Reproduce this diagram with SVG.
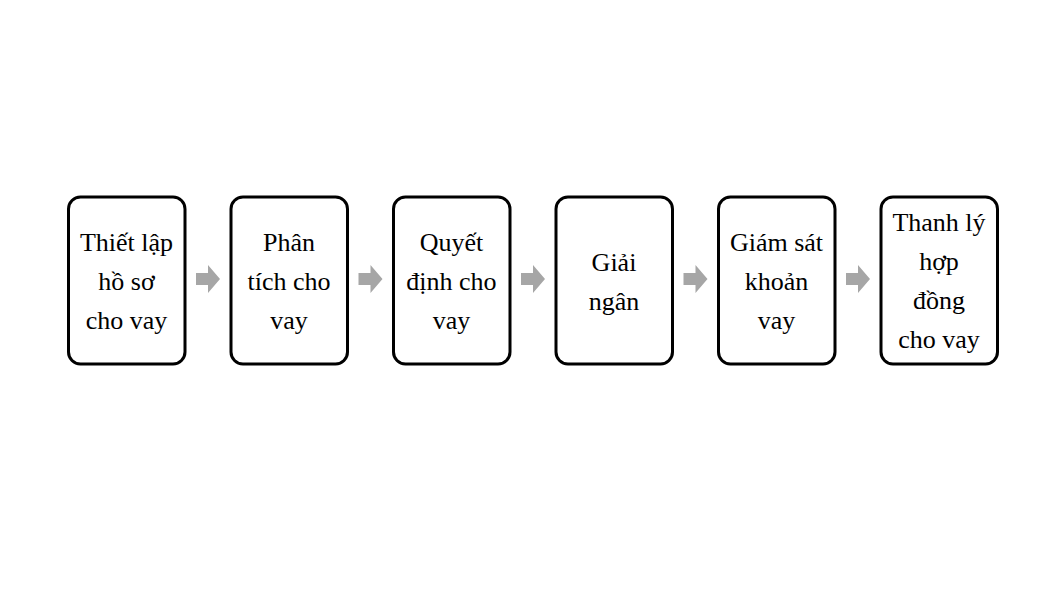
<svg xmlns="http://www.w3.org/2000/svg" width="1048" height="590" viewBox="0 0 1048 590">
<style>
.box{fill:#fff;stroke:#000;stroke-width:3}
.lbl{font-family:"Liberation Serif","Times New Roman",serif;font-size:26px;fill:#000;text-anchor:middle}
.arr{fill:#a6a6a6}
</style>
<defs>
<polygon id="ar" points="-12,-6 0,-6 0,-14 12,0 0,14 0,6 -12,6"/>
</defs>
<rect width="1048" height="590" fill="#fff"/>
<g id="n1"><rect class="box" x="68.5" y="197" width="116.5" height="167" rx="12"/>
<text class="lbl" x="126.5" y="251">Thiết lập</text><text class="lbl" x="126.5" y="290">hồ sơ</text><text class="lbl" x="126.5" y="329">cho vay</text></g>
<g id="n2"><rect class="box" x="231" y="197" width="116.5" height="167" rx="12"/>
<text class="lbl" x="289" y="251">Phân</text><text class="lbl" x="289" y="290">tích cho</text><text class="lbl" x="289" y="329">vay</text></g>
<g id="n3"><rect class="box" x="393.5" y="197" width="116.5" height="167" rx="12"/>
<text class="lbl" x="451.5" y="251">Quyết</text><text class="lbl" x="451.5" y="290">định cho</text><text class="lbl" x="451.5" y="329">vay</text></g>
<g id="n4"><rect class="box" x="556" y="197" width="116.5" height="167" rx="12"/>
<text class="lbl" x="614" y="271">Giải</text><text class="lbl" x="614" y="310">ngân</text></g>
<g id="n5"><rect class="box" x="718.5" y="197" width="116.5" height="167" rx="12"/>
<text class="lbl" x="776.5" y="251">Giám sát</text><text class="lbl" x="776.5" y="290">khoản</text><text class="lbl" x="776.5" y="329">vay</text></g>
<g id="n6"><rect class="box" x="881" y="197" width="116.5" height="167" rx="12"/>
<text class="lbl" x="939" y="231">Thanh lý</text><text class="lbl" x="939" y="270">hợp</text><text class="lbl" x="939" y="309">đồng</text><text class="lbl" x="939" y="348">cho vay</text></g>
<g id="connectors" class="arr">
<use href="#ar" x="208" y="279"/>
<use href="#ar" x="370.5" y="279"/>
<use href="#ar" x="533" y="279"/>
<use href="#ar" x="695.5" y="279"/>
<use href="#ar" x="858" y="279"/>
</g>
</svg>
